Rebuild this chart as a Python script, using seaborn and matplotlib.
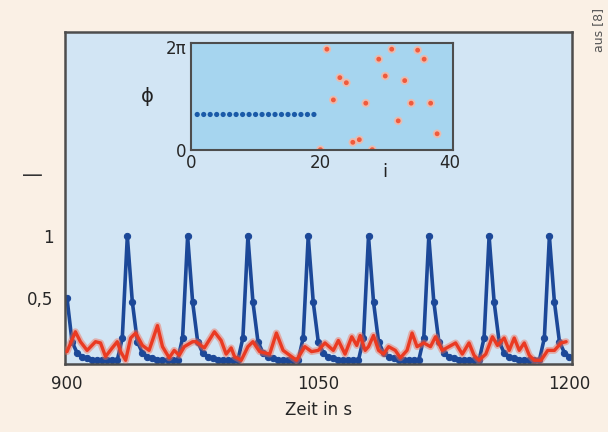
import numpy as np
import matplotlib
matplotlib.use("Agg")
import matplotlib.pyplot as plt
import seaborn as sns

# --- DATA ---
# blue trace: sampled every 3 s from 900 s to 1200 s
blue_time = np.arange(900, 1201, 3)
blue_values = [
    0.50, 0.15, 0.06, 0.03, 0.015, 0.005, 0.0, 0.0, 0.0, 0.0, 0.0, 0.18,
    1.0, 0.47, 0.15, 0.06, 0.03, 0.015, 0.005, 0.0, 0.0, 0.0, 0.0, 0.18,
    1.0, 0.47, 0.15, 0.06, 0.03, 0.015, 0.005, 0.0, 0.0, 0.0, 0.0, 0.18,
    1.0, 0.47, 0.15, 0.06, 0.03, 0.015, 0.005, 0.0, 0.0, 0.0, 0.0, 0.18,
    1.0, 0.47, 0.15, 0.06, 0.03, 0.015, 0.005, 0.0, 0.0, 0.0, 0.0, 0.18,
    1.0, 0.47, 0.15, 0.06, 0.03, 0.015, 0.005, 0.0, 0.0, 0.0, 0.0, 0.18,
    1.0, 0.47, 0.15, 0.06, 0.03, 0.015, 0.005, 0.0, 0.0, 0.0, 0.0, 0.18,
    1.0, 0.47, 0.15, 0.06, 0.03, 0.015, 0.005, 0.0, 0.0, 0.0, 0.0, 0.18,
    1.0, 0.47, 0.15, 0.06, 0.03,
]

# red trace: irregular noisy signal
red_time = [
    900, 905, 908, 912, 917, 920, 923, 927, 930, 932, 935, 938, 941, 945, 949,
    954, 957, 961, 964, 967, 970, 975, 977, 982, 988, 992, 995, 998, 1000, 1004,
    1008, 1011, 1015, 1021, 1025, 1029, 1033, 1037, 1042, 1046, 1050, 1054, 1059,
    1062, 1066, 1070, 1073, 1075, 1078, 1080, 1083, 1086, 1089, 1092, 1096, 1099,
    1103, 1106, 1109, 1113, 1117, 1120, 1124, 1128, 1132, 1136, 1140, 1143, 1146,
    1150, 1154, 1157, 1161, 1164, 1167, 1170, 1173, 1176, 1179, 1183, 1187, 1191,
    1195, 1198,
]
red_values = [
    0.07, 0.23, 0.15, 0.08, 0.15, 0.14, 0.03, 0.10, 0.15, 0.07, 0.00, 0.18, 0.22, 0.12, 0.08,
    0.28, 0.11, 0.02, 0.08, 0.04, 0.11, 0.15, 0.15, 0.10, 0.23, 0.16, 0.05, 0.10, 0.03, 0.00,
    0.11, 0.15, 0.07, 0.05, 0.22, 0.08, 0.04, 0.00, 0.11, 0.07, 0.08, 0.14, 0.08,
    0.16, 0.05, 0.19, 0.12, 0.20, 0.08, 0.11, 0.20, 0.08, 0.05, 0.11, 0.08, 0.02,
    0.08, 0.22, 0.11, 0.14, 0.11, 0.19, 0.08, 0.11, 0.14, 0.05, 0.14, 0.04, 0.00,
    0.05, 0.19, 0.12, 0.18, 0.08, 0.18, 0.08, 0.14, 0.04, 0.00, 0.00, 0.08, 0.08,
    0.14, 0.15,
]

# inset: phase per index
inset_blue_i = list(range(1, 20))
inset_blue_phi = [2.15] * 19
inset_red_i = list(range(20, 39))
inset_red_phi = [
    0.0, 6.14, 3.04, 4.40, 4.09, 0.45, 0.61, 2.84, 0.0, 5.53,
    4.50, 6.14, 1.76, 4.22, 2.84, 6.08, 5.53, 2.84, 0.97,
]

main_xticks = [900, 1050, 1200]
main_yticks = [0.5, 1]
main_yticklabels = ["0,5", "1"]
inset_xticks = [0, 20, 40]
inset_yticks = [0, np.pi, 2 * np.pi]
inset_yticklabels = ["0", "", "2π"]

# --- STYLE ---
FIG_BG = "#faf0e5"
MAIN_BG = "#d2e5f4"
INSET_BG = "#a6d5ef"
FRAME = "#4d4d4d"
BLUE = "#1c4898"
RED = "#ea3a22"
RED_GLOW = "#f26a50"
FONT = ["Liberation Sans Narrow", "DejaVu Sans"]

sns.set_style("white")
plt.rcParams["font.family"] = FONT
plt.rcParams["text.color"] = "#222222"

fig = plt.figure(figsize=(6.08, 4.32), dpi=100, facecolor=FIG_BG)

# --- main axes ---
ax = fig.add_axes([0.1061, 0.1574, 0.8347, 0.7685])
ax.set_facecolor(MAIN_BG)

sns.lineplot(x=blue_time, y=blue_values, ax=ax, color=BLUE, linewidth=2.6,
             marker="o", markersize=4.5, markeredgecolor=BLUE, sort=False, zorder=2)
sns.lineplot(x=red_time, y=red_values, ax=ax, color=RED_GLOW, linewidth=5,
             alpha=0.45, sort=False, zorder=3)
sns.lineplot(x=red_time, y=red_values, ax=ax, color=RED, linewidth=2.4,
             sort=False, zorder=4)

ax.set_xlim(898.5, 1201.5)
ax.set_ylim(-0.03, 2.65)
ax.set_xticks(main_xticks)
ax.set_xticklabels([str(t) for t in main_xticks], fontsize=12)
ax.set_yticks(main_yticks)
ax.set_yticklabels(main_yticklabels, fontsize=12)
ax.tick_params(direction="in", length=4, width=1.2, color=FRAME, pad=8)
ax.set_xlabel("Zeit in s", fontsize=12, labelpad=6)
ax.set_ylabel("")
for sp in ax.spines.values():
    sp.set_visible(True)
    sp.set_color(FRAME)
    sp.set_linewidth(1.8)

fig.text(0.054, 0.595, "—", fontsize=15, ha="center", va="center", color="#333333")
fig.text(0.985, 0.93, "aus [8]", fontsize=9, rotation=90, ha="center", va="center",
         color="#555555")

# --- inset ---
axi = fig.add_axes([0.3137, 0.6528, 0.4319, 0.2470])
axi.set_facecolor(INSET_BG)
sns.scatterplot(x=inset_red_i, y=inset_red_phi, ax=axi, color="#fbb5a0", s=38,
                edgecolor="none", alpha=0.8)
sns.scatterplot(x=inset_red_i, y=inset_red_phi, ax=axi, color="#f05a3c", s=12,
                edgecolor="none")
sns.scatterplot(x=inset_blue_i, y=inset_blue_phi, ax=axi, color="#1a5aa8", s=14,
                edgecolor="none")
axi.set_xlim(0, 40.5)
axi.set_ylim(-0.02, 6.5)
axi.set_xticks(inset_xticks)
axi.set_xticklabels([str(t) for t in inset_xticks], fontsize=12)
axi.set_yticks(inset_yticks)
axi.set_yticklabels(inset_yticklabels, fontsize=12)
axi.tick_params(direction="in", length=3, width=1, color=FRAME, pad=3)
for sp in axi.spines.values():
    sp.set_visible(True)
    sp.set_color(FRAME)
    sp.set_linewidth(1.5)

fig.text(147 / 608, 1 - 97 / 432, "ϕ", fontsize=14, ha="center", va="center")
fig.text(385 / 608, 1 - 172 / 432, "i", fontsize=13, ha="center", va="center")

fig.savefig("out.png", dpi=100, facecolor=FIG_BG)
